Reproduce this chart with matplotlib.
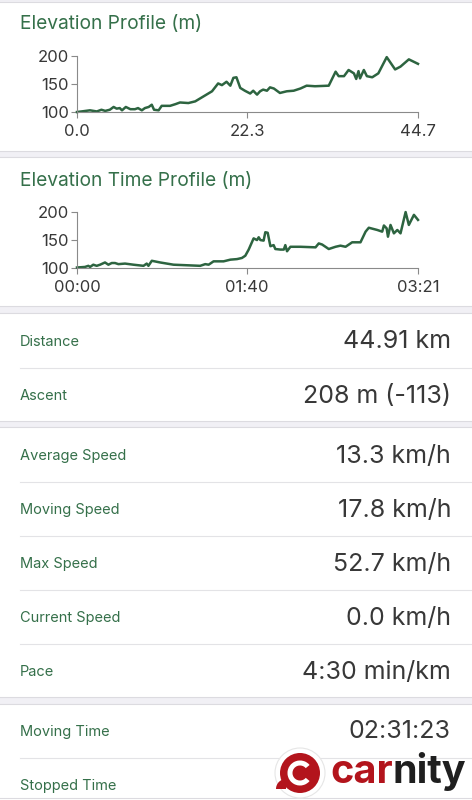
import matplotlib
matplotlib.use("Agg")
from matplotlib import pyplot as plt
from matplotlib.patches import Rectangle, Circle, Wedge

plt.rcParams['font.family'] = ['Inter', 'DejaVu Sans']

# elevation vs distance (km, m)
dist_km = [0.0, 0.6, 1.7, 2.6, 3.2, 3.7, 4.3, 4.8, 5.2, 5.6, 5.9, 6.4, 7.0, 7.6, 8.0,
           8.5, 8.9, 9.4, 9.8, 10.1, 10.7, 11.1, 12.2, 12.9, 13.5, 14.6, 15.5, 16.6,
           17.7, 18.5, 19.0, 19.6, 20.1, 20.5, 20.9, 21.4, 22.0, 22.7, 23.1, 23.6,
           24.0, 24.4, 24.9, 25.3, 25.8, 26.6, 27.5, 28.4, 29.3, 30.1, 31.2, 33.0,
           33.9, 34.3, 35.0, 35.6, 36.3, 36.6, 36.9, 37.1, 37.6, 38.0, 38.7, 39.5,
           40.6, 41.7, 42.4, 43.5, 44.7]
elev_dist = [100, 101, 103, 101, 104, 102, 104, 109, 106, 107, 103, 109, 105, 105, 107,
             103, 107, 109, 113, 104, 103, 111, 111, 114, 117, 116, 119, 128,
             137, 151, 148, 154, 147, 161, 162, 143, 138, 133, 138, 131,
             137, 140, 138, 144, 142, 134, 137, 138, 142, 147, 146, 147,
             172, 164, 164, 175, 169, 159, 173, 160, 175, 164, 162, 169,
             198, 176, 181, 194, 186]

# elevation vs time (minutes, m)
time_min = [0, 4.7, 6.7, 7.7, 9.6, 11.6, 13.6, 16.5, 18.5, 20.5, 22.4, 24.4, 28.3, 33.3,
            39.2, 41.1, 42.1, 44.1, 49.0, 56.9, 64.8, 72.6, 75.6, 77.6, 80.5, 86.4,
            90.4, 94.3, 97.2, 99.2, 101.2, 104.1, 106.1, 107.1, 108.1, 110.0, 111.0,
            112.4, 114.0, 115.9, 116.9, 119.9, 121.9, 122.8, 123.8, 125.8, 131.7,
            140.6, 142.5, 144.5, 148.4, 152.4, 155.3, 158.3, 162.2, 167.1, 170.1,
            172.0, 177.0, 179.9, 180.9, 182.5, 183.3, 184.8, 186.8, 188.8, 190.7,
            193.7, 195.6, 198.6, 201]
elev_time = [100, 101, 103, 101, 105, 103, 105, 109, 105, 108, 108, 106, 107, 105,
             103, 107, 103, 112, 109, 105, 104, 103, 106, 105, 111, 111,
             114, 115, 117, 121, 132, 152, 149, 154, 149, 148, 163,
             162, 138, 140, 133, 132, 132, 140, 129, 137, 137,
             136, 143, 141, 133, 137, 139, 137, 145, 145, 164,
             171, 167, 164, 175, 170, 155, 176, 161, 167, 161,
             199, 176, 194, 185]

dist_ticks = [0.0, 22.3, 44.7]
time_ticks = [0, 100, 201]
time_labels = ['00:00', '01:40', '03:21']
elev_ticks = [100, 150, 200]

stat_groups = [
    [('Distance', '44.91 km'), ('Ascent', '208 m (-113)')],
    [('Average Speed', '13.3 km/h'), ('Moving Speed', '17.8 km/h'),
     ('Max Speed', '52.7 km/h'), ('Current Speed', '0.0 km/h'),
     ('Pace', '4:30 min/km')],
    [('Moving Time', '02:31:23'), ('Stopped Time', '')],
]

W, H = 472, 800
GREEN_LINE = '#2d6440'
GREEN_TEXT = '#35704a'
GAP = '#f1f0f5'
EDGE = '#dcdbe0'

fig = plt.figure(figsize=(W / 100, H / 100), dpi=100)
fig.patch.set_facecolor('white')
bg = fig.add_axes([0, 0, 1, 1])
bg.set_xlim(0, W)
bg.set_ylim(H, 0)
bg.axis('off')


def gap(y0, y1):
    bg.add_patch(Rectangle((0, y0), W, y1 - y0, facecolor=GAP, edgecolor='none'))
    bg.plot([0, W], [y0, y0], color=EDGE, lw=0.8)
    bg.plot([0, W], [y1, y1], color=EDGE, lw=0.8)


gap(-1, 1.5)
gap(151, 157)
gap(306, 313)
gap(421, 427)
gap(697, 704)

bg.text(20, 24, 'Elevation Profile (m)', color=GREEN_TEXT, fontsize=13.8, va='center')
bg.text(20, 181, 'Elevation Time Profile (m)', color=GREEN_TEXT, fontsize=13.8, va='center')

# stats rows
row_h = 54
starts = [342, 456, 732]
for group, y0 in zip(stat_groups, starts):
    for i, (label, value) in enumerate(group):
        y = y0 + i * row_h
        bg.text(20, y, label, color=GREEN_TEXT, fontsize=10.5, va='center')
        if value:
            bg.text(451, y, value, color='#383838', fontsize=18, va='center', ha='right')
        if i < len(group) - 1:
            bg.plot([20, W], [y + row_h / 2 - 1, y + row_h / 2 - 1], color='#e3e3e6', lw=0.8)
bg.plot([0, W], [798, 798], color=EDGE, lw=0.8)


def profile_axes(top, x, y, xmax, xticks, xlabels):
    ax = fig.add_axes([77 / W, 1 - (top + 56) / H, 341 / W, 56 / H])
    ax.plot(x, y, color=GREEN_LINE, lw=1.8, solid_joinstyle='round', clip_on=False)
    ax.set_xlim(0, xmax)
    ax.set_ylim(100, 200)
    ax.set_xticks(xticks)
    ax.set_xticklabels(xlabels)
    ax.set_yticks(elev_ticks)
    for s in ['top', 'right']:
        ax.spines[s].set_visible(False)
    for s in ['left', 'bottom']:
        ax.spines[s].set_color('#8a8a8a')
        ax.spines[s].set_linewidth(0.8)
    ax.tick_params(axis='both', colors='#8a8a8a', labelcolor='#383838',
                   labelsize=12, length=4, width=0.8)
    ax.tick_params(axis='x', pad=5)
    ax.tick_params(axis='y', pad=2)
    ax.set_facecolor('none')
    return ax


profile_axes(56, dist_km, elev_dist, 44.7, dist_ticks, [f'{t:.1f}' for t in dist_ticks])
profile_axes(211.5, time_min, elev_time, 201, time_ticks, time_labels)

# watermark
bg.add_patch(Circle((300, 773), 25, facecolor='white', edgecolor='#e6e6e6', lw=0.8, zorder=5))
bg.add_patch(Circle((300, 773), 20, facecolor='#b3141c', edgecolor='none', zorder=6))
bg.add_patch(Wedge((286, 789), 10, 180, 270, facecolor='#b3141c', edgecolor='none', zorder=6))
bg.add_patch(Wedge((300, 773), 12.5, 40, 320, width=5, facecolor='white', edgecolor='none', zorder=7))
t_car = bg.text(330, 783, 'car', color='#b3141c', fontsize=28.5, fontweight='bold',
                va='baseline', ha='left', zorder=8)
bg.annotate('nity', xy=(1, 0), xycoords=t_car, color='#1f1f1f', fontsize=28.5,
            fontweight='bold', va='bottom', ha='left', zorder=8)

fig.savefig('out.png', dpi=100, facecolor='white')
